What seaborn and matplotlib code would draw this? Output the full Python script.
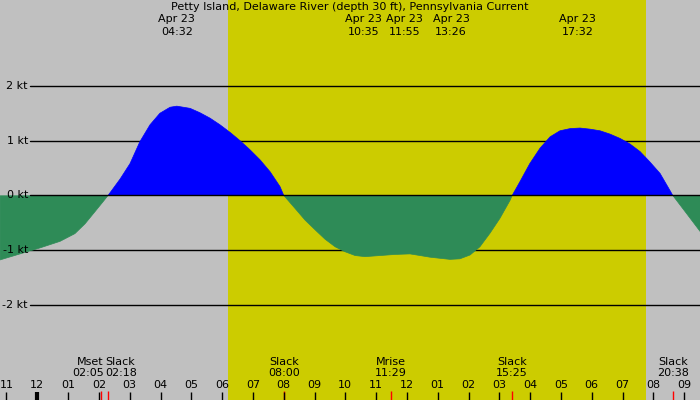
import matplotlib
matplotlib.use("Agg")
import matplotlib.pyplot as plt
import seaborn as sns
import pandas as pd

# current speed (kt), hours from midnight Apr 23
hours = [-1.21, -0.56, 0.09, 0.74, 1.22, 1.55, 1.87, 2.13, 2.30, 2.69,
         3.01, 3.33, 3.66, 3.98, 4.31, 4.53, 4.96, 5.28, 5.61, 5.93,
         6.26, 6.58, 6.91, 7.23, 7.56, 7.88, 8.00, 8.37, 8.69, 9.02,
         9.34, 9.67, 9.99, 10.32, 10.64, 11.13, 11.61, 12.10, 12.43, 12.75,
         13.07, 13.40, 13.72, 14.05, 14.37, 14.70, 15.02, 15.35, 15.42, 15.67,
         15.99, 16.32, 16.65, 16.97, 17.30, 17.62, 17.94, 18.27, 18.59, 18.92,
         19.24, 19.57, 19.89, 20.22, 20.54, 20.63, 21.09, 21.52]
speed = [-1.18, -1.07, -0.96, -0.84, -0.70, -0.52, -0.30, -0.12, 0.00, 0.30,
         0.58, 0.98, 1.29, 1.50, 1.61, 1.63, 1.59, 1.51, 1.41, 1.29,
         1.15, 1.00, 0.83, 0.65, 0.43, 0.16, 0.00, -0.24, -0.45, -0.63,
         -0.80, -0.94, -1.03, -1.10, -1.12, -1.10, -1.08, -1.07, -1.10, -1.13,
         -1.15, -1.17, -1.16, -1.09, -0.94, -0.69, -0.42, -0.09, 0.00, 0.25,
         0.58, 0.86, 1.07, 1.18, 1.22, 1.23, 1.21, 1.18, 1.12, 1.04,
         0.94, 0.80, 0.61, 0.40, 0.09, 0.00, -0.34, -0.66]

title = "Petty Island, Delaware River (depth 30 ft), Pennsylvania Current"
date_label = "Apr 23"
peak_times = ["04:32", "10:35", "11:55", "13:26", "17:32"]
event_names = ["Mset", "Slack", "Slack", "Mrise", "Slack", "Slack"]
event_times = ["02:05", "02:18", "08:00", "11:29", "15:25", "20:38"]
sunrise, sunset = "06:11", "19:46"
kt_levels = [2, 1, 0, -1, -2]
tick_hours = list(range(-1, 22))


def to_hours(s):
    h, m = s.split(":")
    return int(h) + int(m) / 60


df = pd.DataFrame({"hour": hours, "speed": speed})
df["flood"] = df["speed"].where(df["speed"] >= 0)
df["ebb"] = df["speed"].where(df["speed"] <= 0)

sns.set_style("white", {"axes.facecolor": "#c0c0c0", "text.color": "black"})
plt.rcParams["font.family"] = ["DejaVu Sans"]
plt.rcParams["text.color"] = "black"
fs = 8

fig = plt.figure(figsize=(7, 4), dpi=100)
ax = fig.add_axes([0, 0, 1, 1])
ax.set_xlim(-1.211, 21.516)
ax.set_ylim(-3.74, 3.57)

ax.axvspan(to_hours(sunrise), to_hours(sunset), color="#cccc00", lw=0, zorder=0)

for lv in kt_levels:
    ax.axhline(lv, xmin=30 / 700, color="black", lw=1, zorder=1 if lv else 4)
    ax.text(28 / 700, lv, f"{lv} kt", transform=ax.get_yaxis_transform(),
            ha="right", va="center", fontsize=fs, zorder=5)

ax.fill_between(df["hour"], df["speed"], 0, where=df["speed"] >= 0,
                color="#0000ff", lw=0, interpolate=True, zorder=2)
ax.fill_between(df["hour"], df["speed"], 0, where=df["speed"] <= 0,
                color="#2e8b57", lw=0, interpolate=True, zorder=2)
sns.lineplot(data=df, x="hour", y="flood", ax=ax, color="#0000ff",
             linewidth=0.5, estimator=None, errorbar=None, zorder=3)
sns.lineplot(data=df, x="hour", y="ebb", ax=ax, color="#2e8b57",
             linewidth=0.5, estimator=None, errorbar=None, zorder=3)

tr = ax.get_xaxis_transform()
ax.text(0.5, 1 - 7 / 400, title, transform=ax.transAxes, ha="center",
        va="center", fontsize=fs)
for t in peak_times:
    h = to_hours(t)
    ax.text(h, 1 - 19 / 400, date_label, transform=tr, ha="center", va="center", fontsize=fs)
    ax.text(h, 1 - 32 / 400, t, transform=tr, ha="center", va="center", fontsize=fs)

ev_h = [to_hours(t) for t in event_times]
for i, (name, t) in enumerate(zip(event_names, event_times)):
    h = ev_h[i]
    x, ha = h, "center"
    if i + 1 < len(ev_h) and ev_h[i + 1] - h < 1:
        x, ha = (h + ev_h[i + 1]) / 2 - 0.03, "right"
    elif i > 0 and h - ev_h[i - 1] < 1:
        x, ha = (h + ev_h[i - 1]) / 2 + 0.03, "left"
    ax.text(x, 1 - 362 / 400, name, transform=tr, ha=ha, va="center", fontsize=fs, zorder=5)
    ax.text(x, 1 - 373 / 400, t, transform=tr, ha=ha, va="center", fontsize=fs, zorder=5)
    ax.vlines(h, 0, 9 / 400, transform=tr, color="red", lw=1, zorder=5)

for h in tick_hours:
    ax.vlines(h, 0, 8 / 400, transform=tr, color="black",
              lw=3 if h == 0 else 1, zorder=5)
    ax.text(h, 1 - 385 / 400, f"{(h % 12) or 12:02d}", transform=tr,
            ha="center", va="center", fontsize=fs, zorder=5)

ax.set_xticks([])
ax.set_yticks([])
ax.set_xlabel("")
ax.set_ylabel("")
for s in ax.spines.values():
    s.set_visible(False)
if ax.get_legend():
    ax.get_legend().remove()

fig.savefig("out.png", dpi=100)
